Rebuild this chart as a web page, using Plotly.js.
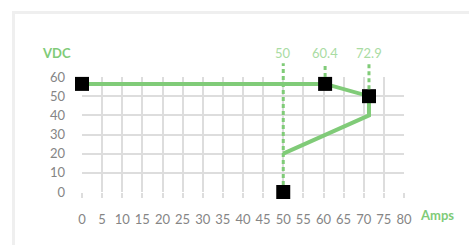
<!DOCTYPE html>
<html>
<head>
<meta charset="utf-8">
<script src="https://cdn.plot.ly/plotly-3.0.1.min.js"></script>
<style>
  html, body { margin: 0; padding: 0; background: #fff; overflow: hidden; }
  #card { position: absolute; left: 12px; top: 11px; width: 520px; height: 300px; border: 3px solid #efefef; box-sizing: border-box; }
  #chart { position: absolute; left: 0; top: 0; width: 469px; height: 245px; }
</style>
</head>
<body>
<div id="card"></div>
<div id="chart"></div>
<script>
// Curve (solid green line)
const curveAmps = [0, 60.4, 71.3, 71.3, 50];
const curveVdc  = [56.4, 56.4, 50, 40, 20];
// Black square points
const pointAmps = [0, 60.4, 71.3, 50];
const pointVdc  = [56.4, 56.4, 50, 0];
// Dotted reference lines
const refAmps   = [50, 60.4, 71.3];
const refVdc    = [0, 56.4, 50];
const refLabels = ['50', '60.4', '72.9'];
// Axes
const xTicks = [0, 5, 10, 15, 20, 25, 30, 35, 40, 45, 50, 55, 60, 65, 70, 75, 80];
const yTicks = [0, 10, 20, 30, 40, 50, 60];

const green = '#80cb78';
const lightGreen = '#a9dca3';
const gray = '#858585';
const grid = '#dddddd';
const yMax = 60;
const W = 469, H = 245;
const M = { l: 82, r: 65, t: 77, b: 53, pad: 0 };
const plotH = H - M.t - M.b;
const markerSize = 14;

const traces = [
  {
    x: curveAmps, y: curveVdc, type: 'scatter', mode: 'lines',
    line: { color: green, width: 4 }, hoverinfo: 'skip'
  },
  {
    x: pointAmps, y: pointVdc, type: 'scatter', mode: 'markers',
    marker: { symbol: 'square', size: markerSize, color: '#000', line: { width: 0 } },
    cliponaxis: false, hoverinfo: 'skip'
  }
];

const topPaper = 1.12;
const shapes = refAmps.map((a, i) => ({
  type: 'line', xref: 'x', yref: 'paper',
  ysizemode: 'pixel', yanchor: refVdc[i] / yMax,
  x0: a, x1: a,
  y0: markerSize / 2,
  y1: (topPaper - refVdc[i] / yMax) * plotH,
  line: { color: green, width: 3, dash: '4px,3px' },
  layer: 'above'
}));

const annotations = refAmps.map((a, i) => ({
  x: a, xref: 'x', y: 1.21, yref: 'paper',
  text: refLabels[i], showarrow: false,
  xanchor: 'center', yanchor: 'middle',
  font: { family: 'Lato, sans-serif', size: 13, color: lightGreen }
}));
annotations.push({
  x: -0.078, xref: 'paper', y: 1.21, yref: 'paper',
  text: '<b>VDC</b>', showarrow: false, xanchor: 'center', yanchor: 'middle',
  font: { family: 'Lato, sans-serif', size: 13, color: green }
});
annotations.push({
  x: 1.102, xref: 'paper', y: -0.2, yref: 'paper',
  text: '<b>Amps</b>', showarrow: false, xanchor: 'center', yanchor: 'middle',
  font: { family: 'Lato, sans-serif', size: 13, color: green }
});

const layout = {
  width: W, height: H,
  margin: M,
  paper_bgcolor: 'rgba(0,0,0,0)',
  plot_bgcolor: 'rgba(0,0,0,0)',
  showlegend: false,
  font: { family: 'Lato, sans-serif', size: 13, color: gray },
  xaxis: {
    range: [0, 80], tickvals: xTicks, ticktext: xTicks.map(String),
    showgrid: true, gridcolor: grid, gridwidth: 2,
    zeroline: false, showline: false, layer: 'below traces',
    ticks: 'outside', ticklen: 5, tickwidth: 2, tickcolor: grid,
    ticklabelstandoff: 10, fixedrange: true,
    tickfont: { family: 'Lato, sans-serif', size: 13, color: gray }
  },
  yaxis: {
    range: [0, yMax], tickvals: yTicks, ticktext: yTicks.map(String),
    showgrid: true, gridcolor: grid, gridwidth: 2,
    zeroline: false, showline: false, ticks: '', layer: 'below traces',
    ticklabelstandoff: 16, fixedrange: true,
    tickfont: { family: 'Lato, sans-serif', size: 13, color: gray }
  },
  shapes: shapes,
  annotations: annotations
};

Plotly.newPlot('chart', traces, layout, { displayModeBar: false, staticPlot: true });
</script>
</body>
</html>
